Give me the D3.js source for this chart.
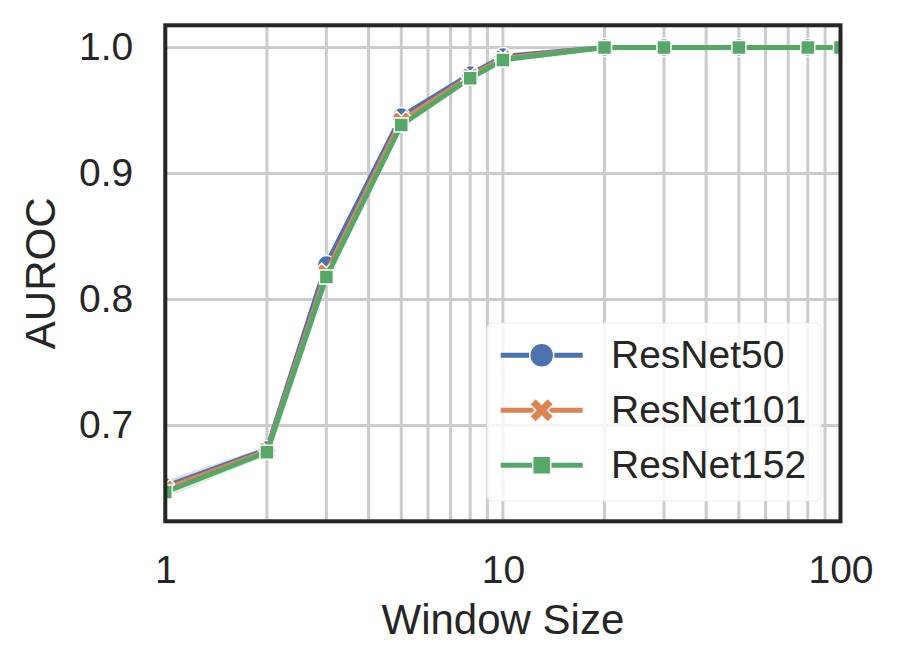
<!DOCTYPE html>
<html>
<head>
<meta charset="utf-8">
<script src="https://cdn.jsdelivr.net/npm/d3@7"></script>
<style>
  html, body { margin: 0; padding: 0; background: #fff; }
  svg { display: block; }
  text { font-family: "Liberation Sans", Arial, Helvetica, sans-serif; fill: #262626; }
</style>
</head>
<body>
<svg id="chart" width="899" height="669"></svg>
<script>
// ---- data ----
const windowSizes = [1, 2, 3, 5, 8, 10, 20, 30, 50, 80, 100];
const seriesNames = ["ResNet50", "ResNet101", "ResNet152"];
const resnet50  = [0.6515, 0.6810, 0.8278, 0.9452, 0.9786, 0.9928, 1.0, 1.0, 1.0, 1.0, 1.0];
const resnet101 = [0.6497, 0.6800, 0.8215, 0.9420, 0.9770, 0.9915, 1.0, 1.0, 1.0, 1.0, 1.0];
const resnet152 = [0.6472, 0.6787, 0.8179, 0.9385, 0.9756, 0.9901, 1.0, 1.0, 1.0, 1.0, 1.0];
// half width of the confidence band
const ci50  = [0.0050, 0.0025, 0.0020, 0.0015, 0.0010, 0.0008, 0, 0, 0, 0, 0];
const ci101 = [0.0050, 0.0025, 0.0020, 0.0015, 0.0010, 0.0008, 0, 0, 0, 0, 0];
const ci152 = [0.0050, 0.0025, 0.0020, 0.0015, 0.0010, 0.0008, 0, 0, 0, 0, 0];
const xTickLabels = [1, 10, 100];
const yTickLabels = [0.7, 0.8, 0.9, 1.0];
const xDomain = [1, 100];
const yDomain = [0.62397, 1.01762];

// ---- layout ----
const plot = { left: 165.3, right: 840.5, top: 25.3, bottom: 521.3 };
const colors = ["#4c72b0", "#dd8452", "#55a868"];
const markers = ["circle", "x", "square"];

const svg = d3.select("#chart");
const x = d3.scaleLog().domain(xDomain).range([plot.left, plot.right]);
const y = d3.scaleLinear().domain(yDomain).range([plot.bottom, plot.top]);

const series = [
  { name: seriesNames[0], values: resnet50,  ci: ci50,  color: colors[0], marker: markers[0] },
  { name: seriesNames[1], values: resnet101, ci: ci101, color: colors[1], marker: markers[1] },
  { name: seriesNames[2], values: resnet152, ci: ci152, color: colors[2], marker: markers[2] }
];

svg.append("defs").append("clipPath").attr("id", "clip")
  .append("rect")
  .attr("x", plot.left).attr("y", plot.top)
  .attr("width", plot.right - plot.left).attr("height", plot.bottom - plot.top);

// grid
const grid = svg.append("g");
grid.selectAll("line.vx").data(x.ticks()).join("line")
  .attr("x1", d => x(d)).attr("x2", d => x(d))
  .attr("y1", plot.top).attr("y2", plot.bottom)
  .attr("stroke", "#cccccc").attr("stroke-width", 3);
grid.selectAll("line.hy").data(yTickLabels).join("line")
  .attr("x1", plot.left).attr("x2", plot.right)
  .attr("y1", d => y(d)).attr("y2", d => y(d))
  .attr("stroke", "#cccccc").attr("stroke-width", 3);

function markerPath(type, size) {
  const h = size / 2;
  if (type === "square") {
    return `M${-h},${-h}H${h}V${h}H${-h}Z`;
  }
  if (type === "x") {
    const pts = [[-0.25,-0.5],[0,-0.25],[0.25,-0.5],[0.5,-0.25],[0.25,0],[0.5,0.25],
                 [0.25,0.5],[0,0.25],[-0.25,0.5],[-0.5,0.25],[-0.25,0],[-0.5,-0.25]];
    return "M" + pts.map(p => `${p[0]*size},${p[1]*size}`).join("L") + "Z";
  }
  return d3.arc()({ innerRadius: 0, outerRadius: h, startAngle: 0, endAngle: 2 * Math.PI });
}
const plotMarkerSize = { circle: 18, x: 18.5, square: 14 };
const legendMarkerSize = { circle: 24, x: 24, square: 18 };

const plotArea = svg.append("g").attr("clip-path", "url(#clip)");

// bands first
series.forEach(s => {
  const area = d3.area()
    .x((d, i) => x(windowSizes[i]))
    .y0((d, i) => y(s.values[i] - s.ci[i]))
    .y1((d, i) => y(s.values[i] + s.ci[i]));
  plotArea.append("path").datum(s.values)
    .attr("d", area).attr("fill", s.color).attr("opacity", 0.2);
});

// lines with markers
const line = d3.line().x(d => x(d[0])).y(d => y(d[1]));
series.forEach(s => {
  const pts = windowSizes.map((w, i) => [w, s.values[i]]);
  const g = plotArea.append("g");
  g.append("path").datum(pts).attr("d", line)
    .attr("fill", "none").attr("stroke", s.color)
    .attr("stroke-width", 5).attr("stroke-linejoin", "round").attr("stroke-linecap", "butt");
  g.selectAll("path.m").data(pts).join("path")
    .attr("transform", d => `translate(${x(d[0])},${y(d[1])})`)
    .attr("d", markerPath(s.marker, plotMarkerSize[s.marker]))
    .attr("fill", s.color).attr("stroke", "#ffffff").attr("stroke-width", 1.5);
});

// frame
svg.append("rect")
  .attr("x", plot.left).attr("y", plot.top)
  .attr("width", plot.right - plot.left).attr("height", plot.bottom - plot.top)
  .attr("fill", "none").attr("stroke", "#262626").attr("stroke-width", 4);

// axes
const xAxis = svg.append("g").attr("transform", `translate(0,${plot.bottom})`)
  .call(d3.axisBottom(x).tickValues(xTickLabels).tickFormat(d3.format("d")).tickSize(0).tickPadding(34));
xAxis.select(".domain").remove();
xAxis.selectAll("text").attr("font-size", 39).attr("fill", "#262626")
  .style("font-family", '"Liberation Sans", Arial, sans-serif');

const yAxis = svg.append("g").attr("transform", `translate(${plot.left},0)`)
  .call(d3.axisLeft(y).tickValues(yTickLabels).tickFormat(d3.format(".1f")).tickSize(0).tickPadding(32));
yAxis.select(".domain").remove();
yAxis.selectAll("text").attr("font-size", 39).attr("fill", "#262626")
  .style("font-family", '"Liberation Sans", Arial, sans-serif');

// axis labels
svg.append("text").attr("x", (plot.left + plot.right) / 2).attr("y", 634)
  .attr("text-anchor", "middle").attr("font-size", 42).text("Window Size");
svg.append("text").attr("transform", `translate(55,${(plot.top + plot.bottom) / 2}) rotate(-90)`)
  .attr("text-anchor", "middle").attr("font-size", 42).text("AUROC");

// legend
const lg = svg.append("g");
lg.append("rect").attr("x", 487).attr("y", 323).attr("width", 334).attr("height", 178)
  .attr("rx", 6).attr("fill", "rgba(255,255,255,0.8)")
  .attr("stroke", "rgba(235,235,235,0.8)").attr("stroke-width", 1.2);
series.forEach((s, i) => {
  const cy = 355.3 + i * 55;
  lg.append("line").attr("x1", 500.7).attr("x2", 582.7).attr("y1", cy).attr("y2", cy)
    .attr("stroke", s.color).attr("stroke-width", 5);
  lg.append("path").attr("transform", `translate(541.7,${cy})`)
    .attr("d", markerPath(s.marker, legendMarkerSize[s.marker]))
    .attr("fill", s.color).attr("stroke", "#ffffff").attr("stroke-width", 1.5);
  lg.append("text").attr("x", 611).attr("y", cy + 12.5)
    .attr("font-size", 39).text(s.name);
});
</script>
</body>
</html>
